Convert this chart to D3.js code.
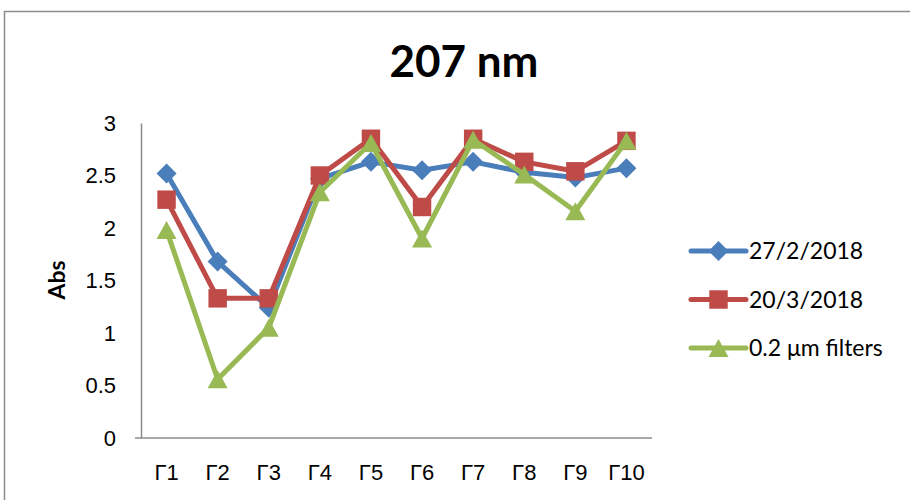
<!DOCTYPE html>
<html>
<head>
<meta charset="utf-8">
<script src="https://cdn.jsdelivr.net/npm/d3@7"></script>
<style>
  html, body { margin: 0; padding: 0; background: #fff; }
  svg { display: block; font-family: Lato, "Noto Sans", "Open Sans", sans-serif; }
</style>
</head>
<body>
<svg id="chart" width="910" height="500"></svg>
<script>
// Absorbance at 207 nm for sampling points Γ1–Γ10
const categories = ["Γ1", "Γ2", "Γ3", "Γ4", "Γ5", "Γ6", "Γ7", "Γ8", "Γ9", "Γ10"];
const seriesNames = ["27/2/2018", "20/3/2018", "0.2 μm filters"];
const feb27 = [2.52, 1.68, 1.24, 2.47, 2.63, 2.55, 2.63, 2.53, 2.48, 2.57];
const mar20 = [2.27, 1.33, 1.33, 2.50, 2.85, 2.20, 2.85, 2.63, 2.54, 2.83];
const filtered = [1.98, 0.56, 1.05, 2.34, 2.81, 1.90, 2.84, 2.51, 2.16, 2.83];
const yTicks = [0, 0.5, 1, 1.5, 2, 2.5, 3];

// marker shapes: square-cornered diamond, square, and a triangle centred on its box
const diamond = {
  draw(ctx, size) {
    const r = Math.sqrt(size / 2);
    ctx.moveTo(0, -r); ctx.lineTo(r, 0); ctx.lineTo(0, r); ctx.lineTo(-r, 0); ctx.closePath();
  }
};
const triangle = {
  draw(ctx, size) {
    const w = Math.sqrt(size * 2), h = w * 0.9;
    ctx.moveTo(0, -h / 2); ctx.lineTo(w / 2, h / 2); ctx.lineTo(-w / 2, h / 2); ctx.closePath();
  }
};

const colors = ["#4A7EBB", "#BE4B48", "#98B954"];
const symbols = [diamond, d3.symbolSquare, triangle];
const symbolSizes = [200, 340, 200];
const series = [feb27, mar20, filtered].map((values, i) => ({
  name: seriesNames[i], values, color: colors[i], symbol: symbols[i], size: symbolSizes[i]
}));

const svg = d3.select("#chart");
const plot = { left: 141, right: 652, top: 123, bottom: 438 };

// chart area frame
svg.append("path")
  .attr("d", "M4.5,500 V11.5 H910")
  .attr("fill", "none").attr("stroke", "#8c8c8c").attr("stroke-width", 1.5);

const x = d3.scaleBand().domain(categories).range([plot.left, plot.right]);
const y = d3.scaleLinear().domain([0, 3]).range([plot.bottom, plot.top]);
const cx = c => x(c) + x.bandwidth() / 2;

// title
svg.append("text")
  .attr("x", 464).attr("y", 77)
  .attr("text-anchor", "middle")
  .attr("font-size", 44).attr("font-weight", "bold")
  .text("207 nm");

// y axis
const yAxis = svg.append("g")
  .attr("transform", `translate(${plot.left},0)`)
  .call(d3.axisLeft(y).tickValues(yTicks).tickSize(0).tickPadding(25).tickFormat(d3.format("")));
yAxis.select(".domain").attr("stroke", "#8c8c8c").attr("stroke-width", 1.5);
yAxis.selectAll("text").attr("font-size", 22).attr("fill", "#000").attr("font-family", null);

// x axis
const xAxis = svg.append("g")
  .attr("transform", `translate(0,${plot.bottom})`)
  .call(d3.axisBottom(x).tickSize(0).tickPadding(26));
xAxis.select(".domain").attr("stroke", "#8c8c8c").attr("stroke-width", 1.5)
  .attr("d", `M${plot.left - 6},0H${plot.right}`);
xAxis.selectAll("text").attr("font-size", 22).attr("fill", "#000").attr("font-family", null);

// y axis title
svg.append("text")
  .attr("transform", "translate(65,280) rotate(-90)")
  .attr("text-anchor", "middle")
  .attr("font-size", 23).attr("font-weight", "bold")
  .text("Abs");

// lines and markers
const line = d3.line().x((d, i) => cx(categories[i])).y(d => y(d));
series.forEach(s => {
  const g = svg.append("g");
  g.append("path")
    .attr("d", line(s.values))
    .attr("fill", "none").attr("stroke", s.color)
    .attr("stroke-width", 5).attr("stroke-linejoin", "round").attr("stroke-linecap", "round");
  g.selectAll("path.mark")
    .data(s.values)
    .join("path")
    .attr("class", "mark")
    .attr("d", d3.symbol().type(s.symbol).size(s.size))
    .attr("transform", (d, i) => `translate(${cx(categories[i])},${y(d)})`)
    .attr("fill", s.color);
});

// legend
const legend = svg.append("g").attr("transform", "translate(691,251)");
series.forEach((s, i) => {
  const g = legend.append("g").attr("transform", `translate(0,${i * 48.5})`);
  g.append("line").attr("x1", 0).attr("x2", 55)
    .attr("stroke", s.color).attr("stroke-width", 5).attr("stroke-linecap", "round");
  g.append("path")
    .attr("d", d3.symbol().type(s.symbol).size(s.size))
    .attr("transform", "translate(27.5,0)")
    .attr("fill", s.color);
  g.append("text").attr("x", 58).attr("dy", "0.35em")
    .attr("font-size", 23).text(s.name);
});
</script>
</body>
</html>
